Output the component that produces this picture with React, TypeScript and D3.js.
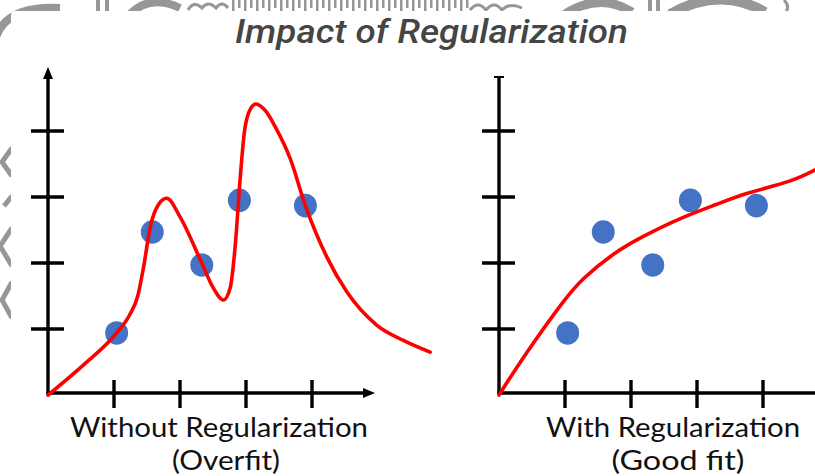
import React from "react";
import * as d3 from "d3";

// ---------- data ----------
const pointX = [1.04, 1.58, 2.33, 2.9, 3.9];
const pointY = [0.94, 2.47, 1.97, 2.95, 2.87];

const overfitX = [0, 0.53, 1.04, 1.24, 1.36, 1.45, 1.55, 1.67, 1.8, 2.0, 2.33, 2.5, 2.66, 2.76, 2.84, 2.91, 2.98, 3.07, 3.15, 3.3, 3.45, 3.67, 3.9, 4.22, 4.53, 4.98, 5.4, 5.79];
const overfitY = [0, 0.45, 0.94, 1.22, 1.5, 1.95, 2.55, 2.88, 2.98, 2.7, 2.0, 1.63, 1.44, 1.62, 2.3, 3.26, 4.02, 4.34, 4.41, 4.3, 4.05, 3.58, 2.87, 2.1, 1.56, 1.06, 0.82, 0.65];

const goodX = [0, 0.42, 0.95, 1.3, 1.73, 2.18, 2.74, 3.3, 3.78, 4.4, 4.79];
const goodY = [0, 0.64, 1.38, 1.78, 2.13, 2.4, 2.67, 2.89, 3.06, 3.24, 3.41];

const ticks = [1, 2, 3, 4];
const titleText = "Impact of Regularization";
const leftLabel = ["Without Regularization", "(Overfit)"];
const rightLabel = ["With Regularization", "(Good fit)"];

// ---------- layout ----------
const W = 815;
const H = 476;
const yScale = d3.scaleLinear().domain([0, 1]).range([395, 329]);
const xLeft = d3.scaleLinear().domain([0, 1]).range([48, 114]);
const xRight = d3.scaleLinear().domain([0, 1]).range([499, 565]);

const RED = "#ff0000";
const BLUE = "#4472c4";
const AX = 3.4;

type Pt = [number, number];

function Panel({
  xs,
  curveX,
  curveY,
  arrows,
  xMax,
  yMax,
  curve,
}: {
  xs: d3.ScaleLinear<number, number>;
  curveX: number[];
  curveY: number[];
  arrows: boolean;
  xMax: number;
  yMax: number;
  curve: d3.CurveFactory;
}) {
  const line = d3
    .line<Pt>()
    .x((d) => xs(d[0]))
    .y((d) => yScale(d[1]))
    .curve(curve);
  const pts: Pt[] = curveX.map((x, i) => [x, curveY[i]]);
  const x0 = xs(0);
  const y0 = yScale(0) - 2;
  const xEnd = xs(xMax);
  const yTop = yScale(yMax);
  return (
    <g>
      {/* axes */}
      <line x1={x0} y1={y0 + 1.5} x2={x0} y2={arrows ? yTop + 8 : yTop} stroke="#000" strokeWidth={AX} />
      <line x1={x0 - 1.5} y1={y0} x2={arrows ? xEnd - 8 : xEnd} y2={y0} stroke="#000" strokeWidth={AX} />
      {arrows ? (
        <>
          <path d={`M${x0},${yTop} L${x0 - 5},${yTop + 12} L${x0 + 5},${yTop + 12} Z`} fill="#000" />
          <path d={`M${xEnd},${y0} L${xEnd - 12},${y0 - 5} L${xEnd - 12},${y0 + 5} Z`} fill="#000" />
        </>
      ) : (
        <line x1={x0 - 5} y1={yTop} x2={x0 + 5} y2={yTop} stroke="#000" strokeWidth={2} />
      )}
      {ticks.map((t) => (
        <line key={"yt" + t} x1={x0 - 17} x2={x0 + 16} y1={yScale(t)} y2={yScale(t)} stroke="#000" strokeWidth={AX} />
      ))}
      {ticks.map((t) => (
        <line key={"xt" + t} x1={xs(t)} x2={xs(t)} y1={y0 - 13} y2={y0 + 15} stroke="#000" strokeWidth={AX} />
      ))}
      {/* points */}
      {pointX.map((x, i) => (
        <ellipse key={"p" + i} cx={xs(x)} cy={yScale(pointY[i])} rx={11.5} ry={11.8} fill={BLUE} />
      ))}
      {/* curve */}
      <path d={line(pts) || ""} fill="none" stroke={RED} strokeWidth={3.6} strokeLinejoin="round" strokeLinecap="round" />
    </g>
  );
}

function Background() {
  const g = "#8c8c8c";
  const bars = d3.range(232, 470, 6);
  return (
    <g fill="none" stroke={g} strokeWidth={5} opacity={0.9}>
      <path d="M-5,40 Q5,5 60,8" strokeWidth={8} />
      <rect x={96} y={0} width={4} height={11} fill={g} stroke="none" />
      <rect x={105} y={0} width={4} height={11} fill={g} stroke="none" />
      <path d="M130,14 Q150,-6 180,8" strokeWidth={8} />
      <path d="M188,10 q6,-10 14,-2 q6,-8 14,0 q6,-8 12,0" strokeWidth={3} />
      {bars.map((b) => (
        <rect key={b} x={b} y={0} width={2.5} height={b % 12 === 4 ? 11 : 8} fill={g} stroke="none" />
      ))}
      <path d="M470,10 q8,-10 16,0 q8,-10 16,0 q8,-8 20,-2" strokeWidth={3} />
      <path d="M565,14 Q600,-8 632,12" strokeWidth={9} />
      <rect x={648} y={0} width={4} height={11} fill={g} stroke="none" />
      <rect x={656} y={0} width={4} height={11} fill={g} stroke="none" />
      <path d="M670,14 Q720,-14 765,12" strokeWidth={10} />
      <path d="M784,0 q6,6 2,12" strokeWidth={3} />
      <path d="M12,148 L2,162 L12,176" strokeWidth={5} />
      <path d="M12,196 L4,206" strokeWidth={5} />
      <path d="M12,228 L0,246 L12,266" strokeWidth={5} />
      <path d="M12,282 L2,300 L12,318" strokeWidth={5} />
    </g>
  );
}

export default function App() {
  return (
    <svg
      width={W}
      height={H}
      viewBox={`0 0 ${W} ${H}`}
      style={{ position: "absolute", left: 0, top: 0, display: "block", background: "#fff" }}
    >
      <Background />
      <rect x={11} y={11} width={W} height={H} fill="#fff" rx={4} />
      <text
        x={431.5}
        y={43}
        textAnchor="middle"
        fontFamily="Roboto, sans-serif"
        fontStyle="italic"
        fontWeight={500}
        fontSize={34}
        fill="#454545"
        textLength={393}
        lengthAdjust="spacingAndGlyphs"
      >
        {titleText}
      </text>
      <Panel xs={xLeft} curveX={overfitX} curveY={overfitY} arrows={true} xMax={(375 - 48) / 66} yMax={(395 - 67) / 66} curve={d3.curveMonotoneX} />
      <Panel xs={xRight} curveX={goodX} curveY={goodY} arrows={false} xMax={5.2} yMax={(395 - 77) / 66} curve={d3.curveNatural} />
      <g fontFamily="Lato, 'Open Sans', sans-serif" fontSize={26} fill="#111" textAnchor="middle">
        <text x={219} y={437} textLength={298} lengthAdjust="spacingAndGlyphs">{leftLabel[0]}</text>
        <text x={226} y={470} textLength={108} lengthAdjust="spacingAndGlyphs">{leftLabel[1]}</text>
        <text x={673} y={437} textLength={254} lengthAdjust="spacingAndGlyphs">{rightLabel[0]}</text>
        <text x={678} y={470} textLength={133} lengthAdjust="spacingAndGlyphs">{rightLabel[1]}</text>
      </g>
    </svg>
  );
}
